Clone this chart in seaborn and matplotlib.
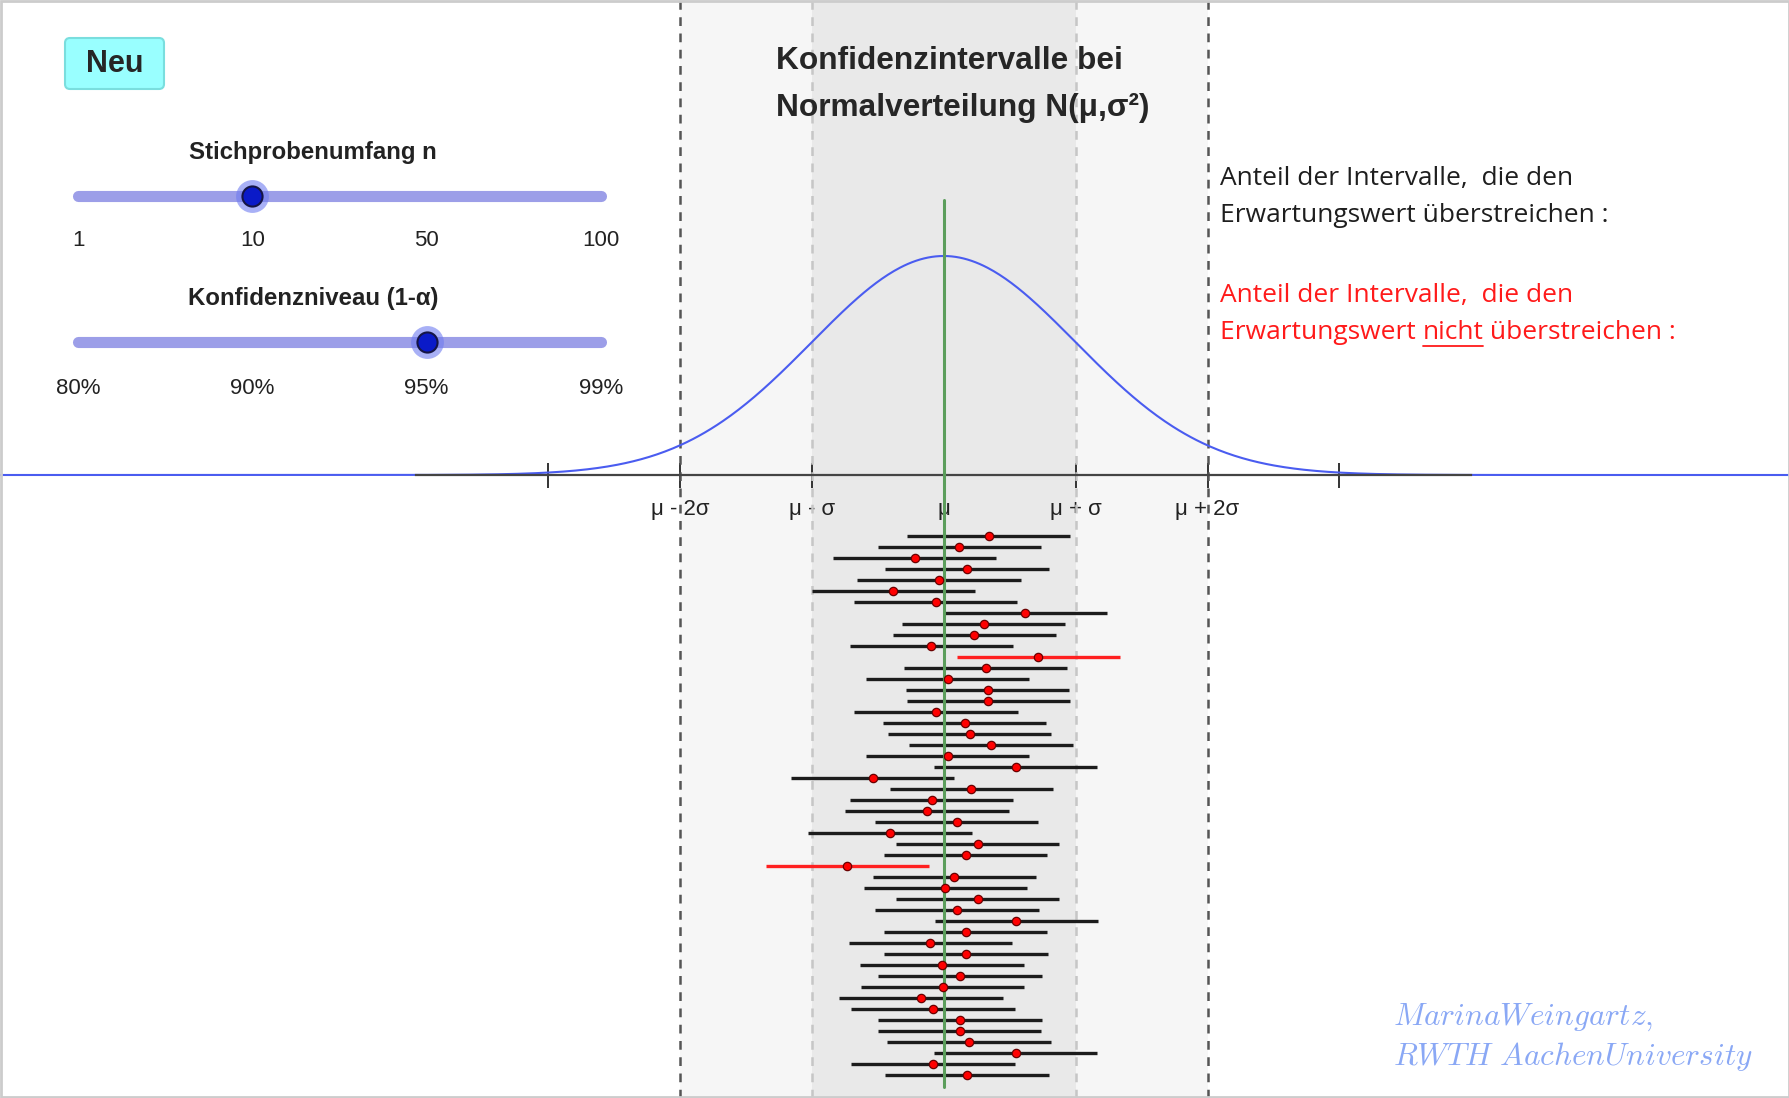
import numpy as np
import pandas as pd
import seaborn as sns
import matplotlib.pyplot as plt
from matplotlib.patches import FancyBboxPatch, Rectangle

# slider settings
n_labels = ["1", "10", "50", "100"]
n_index = 1
level_labels = ["80%", "90%", "95%", "99%"]
level_index = 2
n = 10
z = 1.96

# distribution (in units of sigma, mu = 0)
mu = 0.0
sigma = 1.0
sigma_ticks = [-3, -2, -1, 0, 1, 2, 3]
sigma_labels = ["", "μ - 2σ", "μ - σ", "μ", "μ + σ", "μ + 2σ", ""]

# sample means of the 50 simulated samples (in sigma units)
ci_center = [0.341, 0.119, -0.220, 0.177, -0.035, -0.381, -0.061, 0.615, 0.303, 0.232,
             -0.093, 0.717, 0.318, 0.030, 0.333, 0.338, -0.058, 0.159, 0.197, 0.359,
             0.030, 0.545, -0.538, 0.210, -0.091, -0.126, 0.098, -0.407, 0.258, 0.167,
             -0.730, 0.081, 0.013, 0.258, 0.101, 0.551, 0.167, -0.101, 0.169, -0.013,
             0.124, -0.008, -0.172, -0.083, 0.124, 0.121, 0.192, 0.545, -0.081, 0.177]

half = z * sigma / np.sqrt(n)
ci = pd.DataFrame({"row": np.arange(1, len(ci_center) + 1), "center": ci_center})
ci["lo"] = ci["center"] - half
ci["hi"] = ci["center"] + half
ci["covers"] = (ci["lo"] <= mu) & (ci["hi"] >= mu)

# canvas geometry (pixels)
W, H = 1790, 1098
mu_px, sig_px, axis_px = 943.7, 131.9, 475
curve_peak = 219 / sig_px

sns.set_style("white")
plt.rcParams["font.family"] = ["Liberation Sans", "DejaVu Sans"]
plt.rcParams["mathtext.fontset"] = "cm"

fig = plt.figure(figsize=(W / 100, H / 100), dpi=100)
fig.patch.set_facecolor("white")

# main axes: x and y both in sigma units
ax = fig.add_axes([0, 0, 1, 1])
xlim = (-mu_px / sig_px, (W - mu_px) / sig_px)
ax.axvspan(-2, 2, color="#f6f6f6", lw=0, zorder=0)
ax.axvspan(-1, 1, color="#e9e9e9", lw=0, zorder=0)
for s in (-2, 2):
    ax.axvline(s, color="#555555", lw=1.8, ls=(0, (3.5, 3)), zorder=1)
for s in (-1, 1):
    ax.axvline(s, color="#c6c6c6", lw=1.8, ls=(0, (3.5, 3)), zorder=1)

xs = np.linspace(xlim[0], xlim[1], 900)
pdf = np.exp(-0.5 * ((xs - mu) / sigma) ** 2) / (sigma * np.sqrt(2 * np.pi))
curve = pd.DataFrame({"x": xs, "density": pdf * curve_peak / pdf.max()})
sns.lineplot(data=curve, x="x", y="density", ax=ax, color="#4a5cf0", lw=1.5, zorder=2)

for side in ("top", "left", "right"):
    ax.spines[side].set_visible(False)
ax.spines["bottom"].set_position(("data", 0))
ax.spines["bottom"].set_bounds(-4, 4)
ax.spines["bottom"].set_color("#444444")
ax.spines["bottom"].set_linewidth(1.6)
ax.spines["bottom"].set_zorder(3)
ax.set_xticks(sigma_ticks, sigma_labels)
ax.tick_params(axis="x", bottom=True, direction="inout", length=18, width=1.4, color="#333333",
               labelsize=16, pad=8, labelcolor="#222222")
ax.set_yticks([])
ax.set_xlabel("")
ax.set_ylabel("")
ax.set_xlim(xlim)
ax.set_ylim(-(H - axis_px) / sig_px, axis_px / sig_px)

# interval axes: x in sigma units, y = sample number
ax_ci = fig.add_axes([0, 0, 1, 1])
ax_ci.set_facecolor("none")
ax_ci.axis("off")
ax_ci.axvline(mu, ymin=(H - 1087) / H, ymax=(H - 200) / H, color="#5c9e5c", lw=2.2, zorder=3)
ax_ci.hlines(ci["row"], ci["lo"], ci["hi"],
             colors=np.where(ci["covers"], "#1c1c1c", "#ff2020"), lw=2.4, zorder=2)
sns.scatterplot(data=ci, x="center", y="row", ax=ax_ci, color="#ff0000", s=36,
                edgecolor="#6a0000", linewidth=0.9, zorder=4)
ax_ci.set_xlim(xlim)
ax_ci.set_ylim((H - 525) / 11, -525 / 11)


def draw_slider(track_y, labels, idx, title, label_y):
    sax = fig.add_axes([72 / W, 1 - (track_y + 30) / H, 535 / W, 60 / H])
    sax.axis("off")
    pos = np.arange(len(labels))
    sax.plot([pos[0], pos[-1]], [0, 0], color="#9c9ee8", lw=8, solid_capstyle="round", zorder=1)
    sns.scatterplot(x=[pos[idx]], y=[0], ax=sax, s=560, color="#6f7cf0", alpha=0.6,
                    linewidth=0, zorder=2)
    sns.scatterplot(x=[pos[idx]], y=[0], ax=sax, s=210, color="#0a1ac8",
                    edgecolor="#151545", linewidth=1.5, zorder=3)
    for p, lab in zip(pos, labels):
        sax.text(p, label_y, lab, ha="center", va="center", fontsize=16, color="#222222")
    sax.text(1.35, -44, title, ha="center", va="center", fontsize=17.3, fontweight="bold",
             color="#222222")
    sax.set_xlim(-6 / 174.3, 3 + 6 / 174.3)
    sax.set_ylim(30, -30)


draw_slider(196, n_labels, n_index, "Stichprobenumfang n", 45)
draw_slider(342, level_labels, level_index, "Konfidenzniveau (1-α)", 47)

# overlay in pixel coordinates for labels and decorations
ui = fig.add_axes([0, 0, 1, 1])
ui.set_facecolor("none")
ui.axis("off")
ui.set_xlim(0, W)
ui.set_ylim(H, 0)

ui.add_patch(Rectangle((1, 1), W - 2, H - 2, fill=False, edgecolor="#cccccc", lw=2))
ui.add_patch(FancyBboxPatch((65, 38), 99, 51, boxstyle="round,pad=0,rounding_size=5",
                            facecolor="#99ffff", edgecolor="#7adede", lw=1.5))
ui.text(114.5, 64, "Neu", ha="center", va="center", fontsize=22, fontweight="bold")

ui.text(776, 69, "Konfidenzintervalle bei", fontsize=22.8, fontweight="bold", va="baseline")
ui.text(776, 116, "Normalverteilung N(μ,σ²)", fontsize=22.8, fontweight="bold", va="baseline")

txt_kw = dict(fontsize=19, family=["Open Sans", "DejaVu Sans"], va="baseline")
ui.text(1220, 185, "Anteil der Intervalle,  die den", color="#1e1e1e", **txt_kw)
ui.text(1220, 222, "Erwartungswert überstreichen :", color="#1e1e1e", **txt_kw)
red = "#ff1a1a"
ui.text(1220, 302, "Anteil der Intervalle,  die den", color=red, **txt_kw)

renderer = fig.canvas.get_renderer()
inv = ui.transData.inverted()
t1 = ui.text(1220, 339, "Erwartungswert ", color=red, **txt_kw)
x_end = inv.transform((t1.get_window_extent(renderer).x1, 0))[0]
t2 = ui.text(x_end, 339, "nicht", color=red, **txt_kw)
bb = t2.get_window_extent(renderer)
x0 = inv.transform((bb.x0, 0))[0]
x1 = inv.transform((bb.x1, 0))[0]
ui.plot([x0, x1], [346, 346], color=red, lw=1.3)
ui.text(x1, 339, " überstreichen :", color=red, **txt_kw)

ui.text(1393, 1025, r"$Marina Weingartz,$", fontsize=22.5, color="#8aa8f5", va="baseline")
ui.text(1393, 1065, r"$RWTH\ Aachen University$", fontsize=22.5, color="#8aa8f5", va="baseline")

fig.savefig("out.png", dpi=100)
